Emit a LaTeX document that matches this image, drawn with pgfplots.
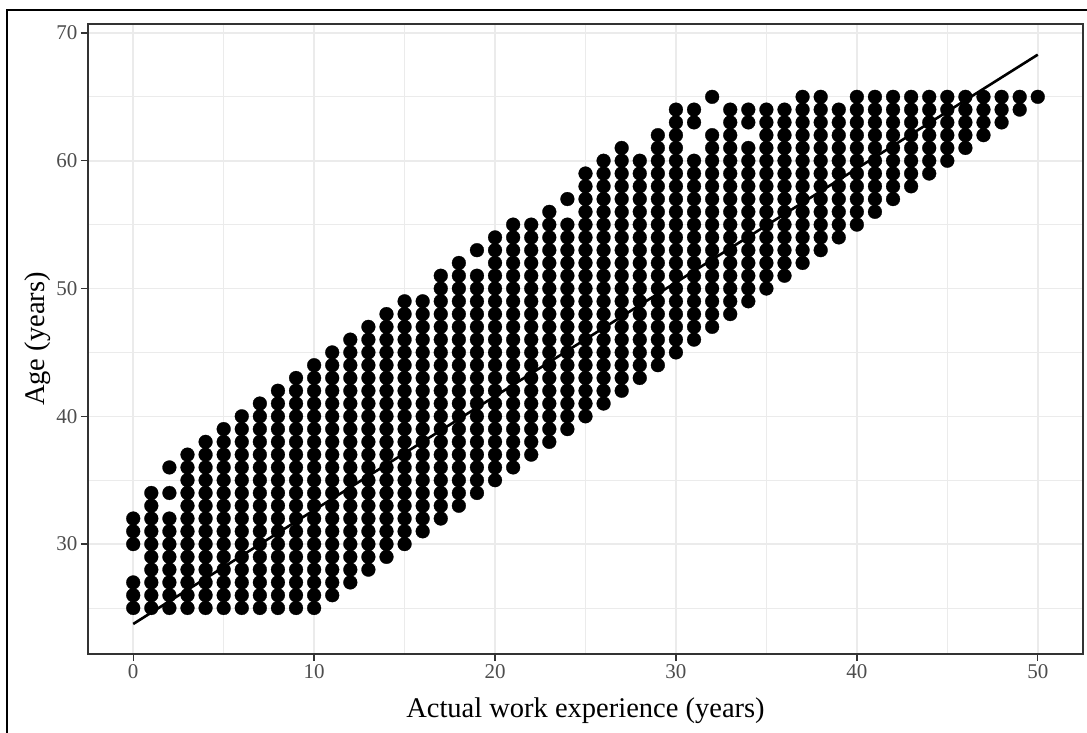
\documentclass[border=0pt]{standalone}
\usepackage{pgfplots}
\pgfplotsset{compat=1.18}
\usepackage{fontspec}
\setmainfont{Liberation Serif}
\definecolor{gridc}{HTML}{EBEBEB}
\definecolor{axc}{HTML}{333333}
\definecolor{tickc}{HTML}{4D4D4D}
\begin{document}
\begin{tikzpicture}[x=1pt,y=1pt]
\useasboundingbox (-88,-79) rectangle (999,654);
\begin{axis}[
 at={(0,0)}, anchor=south west,
 scale only axis, width=995pt, height=630pt,
 xmin=-2.5, xmax=52.5, ymin=21.4, ymax=70.7,
 xtick={0,10,...,50}, ytick={30,40,...,70},
 minor xtick={5,15,...,45}, minor ytick={25,35,...,65},
 grid=both,
 major grid style={gridc, line width=1.6pt},
 minor grid style={gridc, line width=0.9pt},
 axis line style={axc, line width=1.4pt},
 tick pos=left, tick align=outside,
 major tick length=7pt, minor tick length=0pt,
 every tick/.style={axc, line width=1.4pt},
 tick label style={tickc, font=\fontsize{21}{25}\selectfont},
 /pgf/number format/assume math mode=true,
 xlabel={Actual work experience (years)},
 ylabel={Age (years)},
 label style={black, font=\fontsize{28.5}{34}\selectfont},
 xlabel style={at={(axis description cs:0.5,-0.1)}, anchor=base},
 ylabel style={at={(axis description cs:-0.0442,0.5)}, anchor=base},
]
\addplot[only marks, mark=*, mark size=6.9pt, mark options={fill=black, draw=black, line width=0.3pt}] coordinates {
(0,25)(0,26)(0,27)(0,30)(0,31)(0,32)
(1,25)(1,26)(1,27)(1,28)(1,29)(1,30)(1,31)(1,32)(1,33)(1,34)
(2,25)(2,26)(2,27)(2,28)(2,29)(2,30)(2,31)(2,32)(2,34)(2,36)
(3,25)(3,26)(3,27)(3,28)(3,29)(3,30)(3,31)(3,32)(3,33)(3,34)(3,35)(3,36)(3,37)
(4,25)(4,26)(4,27)(4,28)(4,29)(4,30)(4,31)(4,32)(4,33)(4,34)(4,35)(4,36)(4,37)(4,38)
(5,25)(5,26)(5,27)(5,28)(5,29)(5,30)(5,31)(5,32)(5,33)(5,34)(5,35)(5,36)(5,37)(5,38)(5,39)
(6,25)(6,26)(6,27)(6,28)(6,29)(6,30)(6,31)(6,32)(6,33)(6,34)(6,35)(6,36)(6,37)(6,38)(6,39)(6,40)
(7,25)(7,26)(7,27)(7,28)(7,29)(7,30)(7,31)(7,32)(7,33)(7,34)(7,35)(7,36)(7,37)(7,38)(7,39)(7,40)(7,41)
(8,25)(8,26)(8,27)(8,28)(8,29)(8,30)(8,31)(8,32)(8,33)(8,34)(8,35)(8,36)(8,37)(8,38)(8,39)(8,40)(8,41)(8,42)
(9,25)(9,26)(9,27)(9,28)(9,29)(9,30)(9,31)(9,32)(9,33)(9,34)(9,35)(9,36)(9,37)(9,38)(9,39)(9,40)(9,41)(9,42)(9,43)
(10,25)(10,26)(10,27)(10,28)(10,29)(10,30)(10,31)(10,32)(10,33)(10,34)(10,35)(10,36)(10,37)(10,38)(10,39)(10,40)(10,41)(10,42)(10,43)(10,44)
(11,26)(11,27)(11,28)(11,29)(11,30)(11,31)(11,32)(11,33)(11,34)(11,35)(11,36)(11,37)(11,38)(11,39)(11,40)(11,41)(11,42)(11,43)(11,44)(11,45)
(12,27)(12,28)(12,29)(12,30)(12,31)(12,32)(12,33)(12,34)(12,35)(12,36)(12,37)(12,38)(12,39)(12,40)(12,41)(12,42)(12,43)(12,44)(12,45)(12,46)
(13,28)(13,29)(13,30)(13,31)(13,32)(13,33)(13,34)(13,35)(13,36)(13,37)(13,38)(13,39)(13,40)(13,41)(13,42)(13,43)(13,44)(13,45)(13,46)(13,47)
(14,29)(14,30)(14,31)(14,32)(14,33)(14,34)(14,35)(14,36)(14,37)(14,38)(14,39)(14,40)(14,41)(14,42)(14,43)(14,44)(14,45)(14,46)(14,47)(14,48)
(15,30)(15,31)(15,32)(15,33)(15,34)(15,35)(15,36)(15,37)(15,38)(15,39)(15,40)(15,41)(15,42)(15,43)(15,44)(15,45)(15,46)(15,47)(15,48)(15,49)
(16,31)(16,32)(16,33)(16,34)(16,35)(16,36)(16,37)(16,38)(16,39)(16,40)(16,41)(16,42)(16,43)(16,44)(16,45)(16,46)(16,47)(16,48)(16,49)
(17,32)(17,33)(17,34)(17,35)(17,36)(17,37)(17,38)(17,39)(17,40)(17,41)(17,42)(17,43)(17,44)(17,45)(17,46)(17,47)(17,48)(17,49)(17,50)(17,51)
(18,33)(18,34)(18,35)(18,36)(18,37)(18,38)(18,39)(18,40)(18,41)(18,42)(18,43)(18,44)(18,45)(18,46)(18,47)(18,48)(18,49)(18,50)(18,51)(18,52)
(19,34)(19,35)(19,36)(19,37)(19,38)(19,39)(19,40)(19,41)(19,42)(19,43)(19,44)(19,45)(19,46)(19,47)(19,48)(19,49)(19,50)(19,51)(19,53)
(20,35)(20,36)(20,37)(20,38)(20,39)(20,40)(20,41)(20,42)(20,43)(20,44)(20,45)(20,46)(20,47)(20,48)(20,49)(20,50)(20,51)(20,52)(20,53)(20,54)
(21,36)(21,37)(21,38)(21,39)(21,40)(21,41)(21,42)(21,43)(21,44)(21,45)(21,46)(21,47)(21,48)(21,49)(21,50)(21,51)(21,52)(21,53)(21,54)(21,55)
(22,37)(22,38)(22,39)(22,40)(22,41)(22,42)(22,43)(22,44)(22,45)(22,46)(22,47)(22,48)(22,49)(22,50)(22,51)(22,52)(22,53)(22,54)(22,55)
(23,38)(23,39)(23,40)(23,41)(23,42)(23,43)(23,44)(23,45)(23,46)(23,47)(23,48)(23,49)(23,50)(23,51)(23,52)(23,53)(23,54)(23,55)(23,56)
(24,39)(24,40)(24,41)(24,42)(24,43)(24,44)(24,45)(24,46)(24,47)(24,48)(24,49)(24,50)(24,51)(24,52)(24,53)(24,54)(24,55)(24,57)
(25,40)(25,41)(25,42)(25,43)(25,44)(25,45)(25,46)(25,47)(25,48)(25,49)(25,50)(25,51)(25,52)(25,53)(25,54)(25,55)(25,56)(25,57)(25,58)(25,59)
(26,41)(26,42)(26,43)(26,44)(26,45)(26,46)(26,47)(26,48)(26,49)(26,50)(26,51)(26,52)(26,53)(26,54)(26,55)(26,56)(26,57)(26,58)(26,59)(26,60)
(27,42)(27,43)(27,44)(27,45)(27,46)(27,47)(27,48)(27,49)(27,50)(27,51)(27,52)(27,53)(27,54)(27,55)(27,56)(27,57)(27,58)(27,59)(27,60)(27,61)
(28,43)(28,44)(28,45)(28,46)(28,47)(28,48)(28,49)(28,50)(28,51)(28,52)(28,53)(28,54)(28,55)(28,56)(28,57)(28,58)(28,59)(28,60)
(29,44)(29,45)(29,46)(29,47)(29,48)(29,49)(29,50)(29,51)(29,52)(29,53)(29,54)(29,55)(29,56)(29,57)(29,58)(29,59)(29,60)(29,61)(29,62)
(30,45)(30,46)(30,47)(30,48)(30,49)(30,50)(30,51)(30,52)(30,53)(30,54)(30,55)(30,56)(30,57)(30,58)(30,59)(30,60)(30,61)(30,62)(30,63)(30,64)
(31,46)(31,47)(31,48)(31,49)(31,50)(31,51)(31,52)(31,53)(31,54)(31,55)(31,56)(31,57)(31,58)(31,59)(31,60)(31,63)(31,64)
(32,47)(32,48)(32,49)(32,50)(32,51)(32,52)(32,53)(32,54)(32,55)(32,56)(32,57)(32,58)(32,59)(32,60)(32,61)(32,62)(32,65)
(33,48)(33,49)(33,50)(33,51)(33,52)(33,53)(33,54)(33,55)(33,56)(33,57)(33,58)(33,59)(33,60)(33,61)(33,62)(33,63)(33,64)
(34,49)(34,50)(34,51)(34,52)(34,53)(34,54)(34,55)(34,56)(34,57)(34,58)(34,59)(34,60)(34,61)(34,63)(34,64)
(35,50)(35,51)(35,52)(35,53)(35,54)(35,55)(35,56)(35,57)(35,58)(35,59)(35,60)(35,61)(35,62)(35,63)(35,64)
(36,51)(36,52)(36,53)(36,54)(36,55)(36,56)(36,57)(36,58)(36,59)(36,60)(36,61)(36,62)(36,63)(36,64)
(37,52)(37,53)(37,54)(37,55)(37,56)(37,57)(37,58)(37,59)(37,60)(37,61)(37,62)(37,63)(37,64)(37,65)
(38,53)(38,54)(38,55)(38,56)(38,57)(38,58)(38,59)(38,60)(38,61)(38,62)(38,63)(38,64)(38,65)
(39,54)(39,55)(39,56)(39,57)(39,58)(39,59)(39,60)(39,61)(39,62)(39,63)(39,64)
(40,55)(40,56)(40,57)(40,58)(40,59)(40,60)(40,61)(40,62)(40,63)(40,64)(40,65)
(41,56)(41,57)(41,58)(41,59)(41,60)(41,61)(41,62)(41,63)(41,64)(41,65)
(42,57)(42,58)(42,59)(42,60)(42,61)(42,62)(42,63)(42,64)(42,65)
(43,58)(43,59)(43,60)(43,61)(43,62)(43,63)(43,64)(43,65)
(44,59)(44,60)(44,61)(44,62)(44,63)(44,64)(44,65)
(45,60)(45,61)(45,62)(45,63)(45,64)(45,65)
(46,61)(46,62)(46,63)(46,64)(46,65)
(47,62)(47,63)(47,64)(47,65)
(48,63)(48,64)(48,65)
(49,64)(49,65)
(50,65)
};
\addplot[black, line width=2.6pt] coordinates {(0,23.75)(50,68.3)};
\end{axis}
\draw[black, line width=2pt] (-81,-79) -- (-81,644) -- (999,644);
\end{tikzpicture}
\end{document}
